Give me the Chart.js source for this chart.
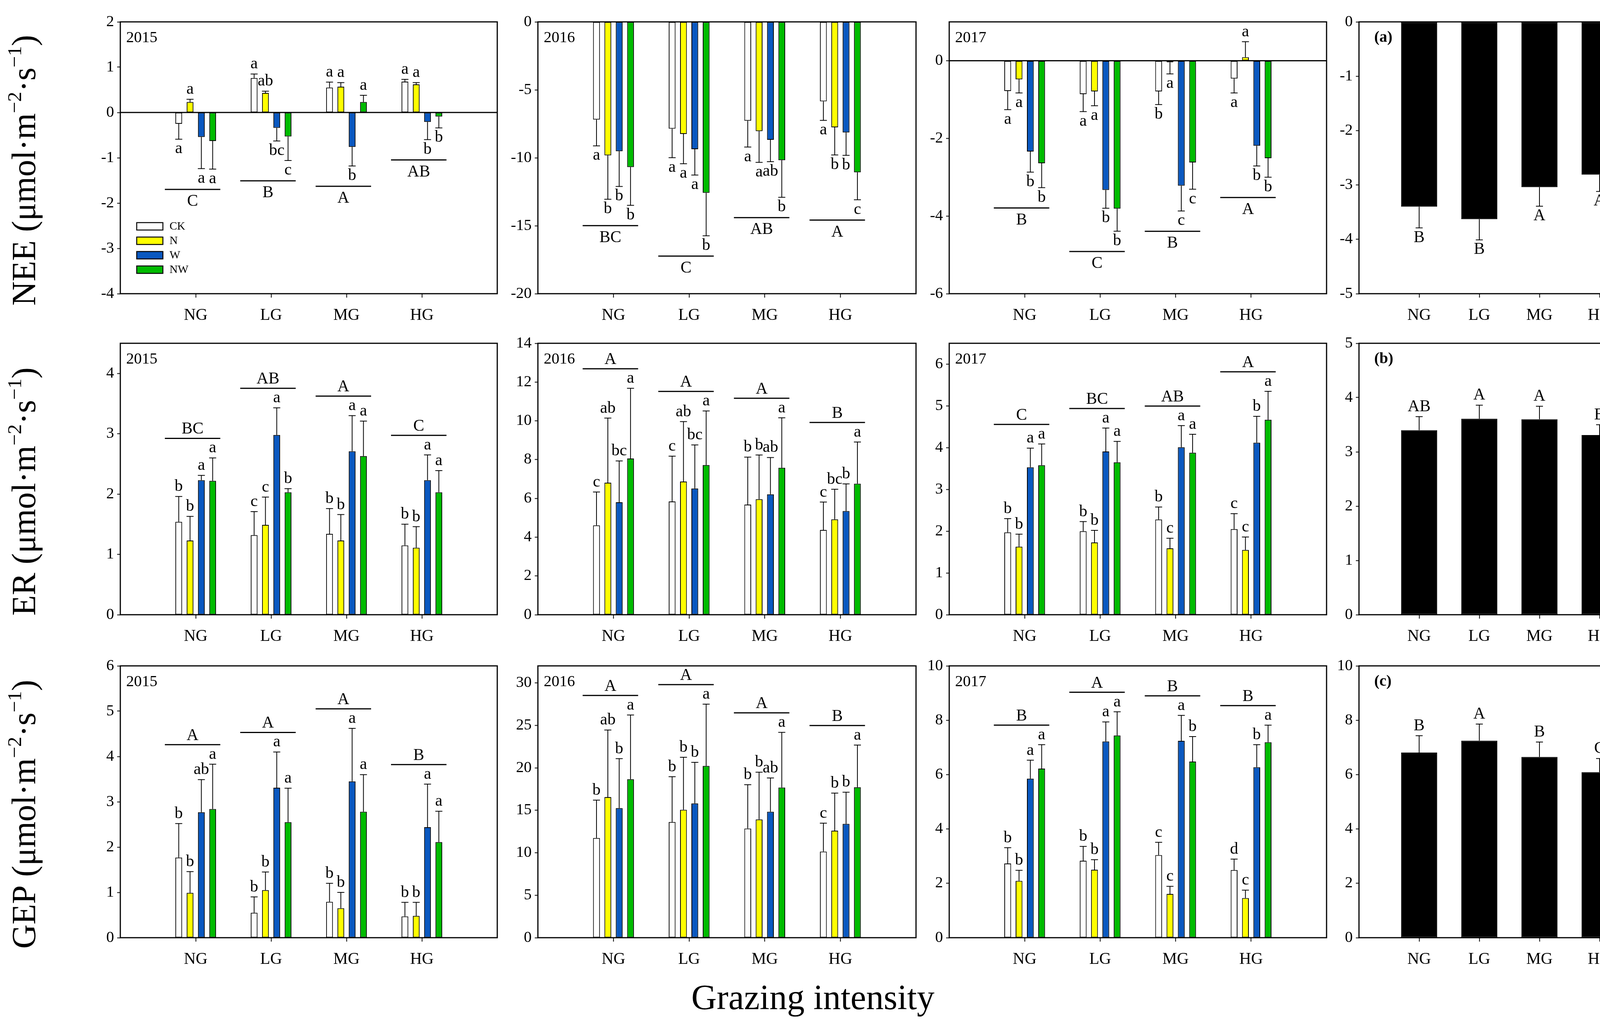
<!DOCTYPE html>
<html>
<head>
<meta charset="utf-8">
<script src="https://cdn.jsdelivr.net/npm/chart.js@4.4.1/dist/chart.umd.min.js"></script>
<style>
  body { margin: 0; background: #fff; }
  #fig { position: relative; width: 4305px; height: 2622px; background: #fff; overflow: hidden; }
  #fig canvas { position: absolute; }
</style>
</head>
<body>
<div id="fig"></div>
<script>
// categories and treatments
const groups = ['NG', 'LG', 'MG', 'HG'];
const treatments = ['CK', 'N', 'W', 'NW'];
const treatColors = ['#ffffff', '#ffff00', '#0a58c0', '#00bb00'];

// rows of each table: CK, N, W, NW ; columns: NG, LG, MG, HG
// ---- NEE ----
const nee2015 = [[-0.25, 0.76, 0.55, 0.68], [0.23, 0.43, 0.57, 0.62], [-0.54, -0.34, -0.76, -0.21], [-0.63, -0.53, 0.23, -0.09]];
const nee2015Err = [[0.34, 0.09, 0.12, 0.05], [0.06, 0.04, 0.09, 0.04], [0.70, 0.29, 0.42, 0.39], [0.62, 0.53, 0.15, 0.25]];
const nee2015Let = [['a', 'a', 'a', 'a'], ['a', 'ab', 'a', 'a'], ['a', 'bc', 'b', 'b'], ['a', 'c', 'a', 'b']];
const nee2015Grp = ['C', 'B', 'A', 'AB'];

const nee2016 = [[-7.19, -7.86, -7.28, -5.85], [-9.82, -8.25, -8.04, -7.76], [-9.52, -9.37, -8.68, -8.14], [-10.68, -12.58, -10.18, -11.07]];
const nee2016Err = [[1.93, 2.13, 1.93, 1.40], [3.23, 2.19, 2.30, 2.03], [2.59, 1.90, 1.61, 1.68], [2.82, 3.16, 2.73, 2.02]];
const nee2016Let = [['a', 'a', 'a', 'a'], ['b', 'a', 'a', 'b'], ['b', 'a', 'ab', 'b'], ['b', 'b', 'b', 'c']];
const nee2016Grp = ['BC', 'C', 'AB', 'A'];

const nee2017 = [[-0.78, -0.86, -0.79, -0.46], [-0.48, -0.79, -0.04, 0.09], [-2.34, -3.33, -3.22, -2.19], [-2.64, -3.81, -2.62, -2.51]];
const nee2017Err = [[0.48, 0.45, 0.34, 0.37], [0.35, 0.37, 0.30, 0.40], [0.53, 0.47, 0.65, 0.52], [0.63, 0.58, 0.69, 0.49]];
const nee2017Let = [['a', 'a', 'b', 'a'], ['a', 'a', 'a', 'a'], ['b', 'b', 'c', 'b'], ['b', 'b', 'c', 'b']];
const nee2017Grp = ['B', 'C', 'B', 'A'];

const neeMean = [-3.40, -3.63, -3.04, -2.81];
const neeMeanErr = [0.39, 0.38, 0.35, 0.31];
const neeMeanLet = ['B', 'B', 'A', 'A'];

// ---- ER ----
const er2015 = [[1.54, 1.32, 1.34, 1.15], [1.23, 1.49, 1.23, 1.11], [2.23, 2.98, 2.71, 2.23], [2.22, 2.03, 2.63, 2.03]];
const er2015Err = [[0.42, 0.39, 0.42, 0.35], [0.40, 0.46, 0.43, 0.35], [0.08, 0.45, 0.59, 0.42], [0.38, 0.06, 0.58, 0.36]];
const er2015Let = [['b', 'c', 'b', 'b'], ['b', 'c', 'b', 'b'], ['a', 'a', 'a', 'a'], ['a', 'b', 'a', 'a']];
const er2015Grp = ['BC', 'AB', 'A', 'C'];

const er2016 = [[4.61, 5.84, 5.68, 4.37], [6.81, 6.87, 5.96, 4.92], [5.80, 6.51, 6.21, 5.35], [8.06, 7.72, 7.58, 6.76]];
const er2016Err = [[1.72, 2.34, 2.45, 1.44], [3.33, 3.09, 2.28, 1.55], [2.13, 2.25, 1.90, 1.40], [3.62, 2.79, 2.58, 2.15]];
const er2016Let = [['c', 'c', 'b', 'c'], ['ab', 'ab', 'b', 'bc'], ['bc', 'bc', 'ab', 'b'], ['a', 'a', 'a', 'a']];
const er2016Grp = ['A', 'A', 'A', 'B'];

const er2017 = [[1.97, 2.00, 2.28, 2.05], [1.63, 1.73, 1.59, 1.55], [3.53, 3.91, 4.01, 4.12], [3.58, 3.65, 3.88, 4.67]];
const er2017Err = [[0.33, 0.23, 0.30, 0.37], [0.30, 0.29, 0.24, 0.31], [0.46, 0.56, 0.52, 0.63], [0.51, 0.50, 0.44, 0.68]];
const er2017Let = [['b', 'b', 'b', 'c'], ['b', 'b', 'c', 'c'], ['a', 'a', 'a', 'b'], ['a', 'a', 'a', 'a']];
const er2017Grp = ['C', 'BC', 'AB', 'A'];

const erMean = [3.40, 3.61, 3.60, 3.31];
const erMeanErr = [0.25, 0.25, 0.24, 0.19];
const erMeanLet = ['AB', 'A', 'A', 'B'];

// ---- GEP ----
const gep2015 = [[1.77, 0.55, 0.79, 0.47], [0.99, 1.05, 0.65, 0.48], [2.77, 3.31, 3.45, 2.44], [2.84, 2.55, 2.78, 2.11]];
const gep2015Err = [[0.75, 0.35, 0.41, 0.31], [0.47, 0.40, 0.35, 0.30], [0.72, 0.79, 1.17, 0.95], [0.99, 0.75, 0.82, 0.68]];
const gep2015Let = [['b', 'b', 'b', 'b'], ['b', 'b', 'b', 'b'], ['ab', 'a', 'a', 'a'], ['a', 'a', 'a', 'a']];
const gep2015Grp = ['A', 'A', 'A', 'B'];

const gep2016 = [[11.74, 13.62, 12.85, 10.14], [16.55, 15.06, 13.92, 12.60], [15.25, 15.80, 14.83, 13.40], [18.65, 20.22, 17.68, 17.71]];
const gep2016Err = [[4.45, 5.33, 5.16, 3.34], [7.90, 6.18, 5.56, 4.42], [5.83, 4.84, 3.98, 3.73], [7.57, 7.27, 6.49, 4.97]];
const gep2016Let = [['b', 'b', 'b', 'c'], ['ab', 'b', 'b', 'b'], ['b', 'b', 'ab', 'b'], ['a', 'a', 'a', 'a']];
const gep2016Grp = ['A', 'A', 'A', 'B'];

const gep2017 = [[2.73, 2.83, 3.04, 2.49], [2.09, 2.50, 1.61, 1.46], [5.85, 7.22, 7.24, 6.27], [6.22, 7.44, 6.48, 7.19]];
const gep2017Err = [[0.58, 0.53, 0.47, 0.40], [0.39, 0.37, 0.28, 0.29], [0.68, 0.72, 0.94, 0.83], [0.88, 0.87, 0.92, 0.63]];
const gep2017Let = [['b', 'b', 'c', 'd'], ['b', 'b', 'c', 'c'], ['a', 'a', 'a', 'b'], ['a', 'a', 'b', 'a']];
const gep2017Grp = ['B', 'A', 'B', 'B'];

const gepMean = [6.81, 7.25, 6.65, 6.09];
const gepMeanErr = [0.62, 0.61, 0.55, 0.50];
const gepMeanLet = ['B', 'A', 'B', 'C'];

// y axis ticks
const neeTicks2015 = [-4, -3, -2, -1, 0, 1, 2];
const neeTicks2016 = [-20, -15, -10, -5, 0];
const neeTicks2017 = [-6, -4, -2, 0];
const neeTicksMean = [-5, -4, -3, -2, -1, 0];
const erTicks2015 = [0, 1, 2, 3, 4];
const erTicks2016 = [0, 2, 4, 6, 8, 10, 12, 14];
const erTicks2017 = [0, 1, 2, 3, 4, 5, 6];
const erTicksMean = [0, 1, 2, 3, 4, 5];
const gepTicks2015 = [0, 1, 2, 3, 4, 5, 6];
const gepTicks2016 = [0, 5, 10, 15, 20, 25, 30];
const gepTicks2017 = [0, 2, 4, 6, 8, 10];
const gepTicksMean = [0, 2, 4, 6, 8, 10];

const rowTitles = ['NEE', 'ER', 'GEP'];
const xTitle = 'Grazing intensity';

Chart.defaults.font.family = '"Liberation Serif", "Times New Roman", serif';
Chart.defaults.color = '#000';

// plot area of each panel on the page
const colX = [[308, 1273], [1377, 2345], [2430, 3396], [3479, 4249]];
const rowY = [[56, 752], [879, 1574], [1705, 2401]];

const panels = [
  { row: 0, col: 0, vals: nee2015, errs: nee2015Err, lets: nee2015Let, grp: nee2015Grp, range: [-4, 2], ticks: neeTicks2015, tag: '2015', legend: true },
  { row: 0, col: 1, vals: nee2016, errs: nee2016Err, lets: nee2016Let, grp: nee2016Grp, range: [-20, 0], ticks: neeTicks2016, tag: '2016' },
  { row: 0, col: 2, vals: nee2017, errs: nee2017Err, lets: nee2017Let, grp: nee2017Grp, range: [-6, 1], ticks: neeTicks2017, tag: '2017' },
  { row: 0, col: 3, vals: [neeMean], errs: [neeMeanErr], lets: [neeMeanLet], range: [-5, 0], ticks: neeTicksMean, tag: '(a)' },
  { row: 1, col: 0, vals: er2015, errs: er2015Err, lets: er2015Let, grp: er2015Grp, range: [0, 4.5], ticks: erTicks2015, tag: '2015' },
  { row: 1, col: 1, vals: er2016, errs: er2016Err, lets: er2016Let, grp: er2016Grp, range: [0, 14], ticks: erTicks2016, tag: '2016' },
  { row: 1, col: 2, vals: er2017, errs: er2017Err, lets: er2017Let, grp: er2017Grp, range: [0, 6.5], ticks: erTicks2017, tag: '2017' },
  { row: 1, col: 3, vals: [erMean], errs: [erMeanErr], lets: [erMeanLet], range: [0, 5], ticks: erTicksMean, tag: '(b)' },
  { row: 2, col: 0, vals: gep2015, errs: gep2015Err, lets: gep2015Let, grp: gep2015Grp, range: [0, 6], ticks: gepTicks2015, tag: '2015' },
  { row: 2, col: 1, vals: gep2016, errs: gep2016Err, lets: gep2016Let, grp: gep2016Grp, range: [0, 32], ticks: gepTicks2016, tag: '2016', xTitle: true },
  { row: 2, col: 2, vals: gep2017, errs: gep2017Err, lets: gep2017Let, grp: gep2017Grp, range: [0, 10], ticks: gepTicks2017, tag: '2017' },
  { row: 2, col: 3, vals: [gepMean], errs: [gepMeanErr], lets: [gepMeanLet], range: [0, 10], ticks: gepTicksMean, tag: '(c)' }
];

const pad = a => [null, ...a, null];
const fig = document.getElementById('fig');
const serif = '"Liberation Serif", "Times New Roman", serif';

// text with superscripts, centred on 0 along the baseline
function drawRich(ctx, segs, size) {
  let total = 0;
  const parts = segs.map(s => {
    const fs = s.sup ? size * 0.6 : size;
    ctx.font = fs + 'px ' + serif;
    const w = ctx.measureText(s.t).width;
    total += w;
    return { s, fs, w };
  });
  let x = -total / 2;
  ctx.textAlign = 'left';
  ctx.textBaseline = 'alphabetic';
  parts.forEach(p => {
    ctx.font = p.fs + 'px ' + serif;
    ctx.fillText(p.s.t, x, p.s.sup ? -size * 0.42 : 0);
    x += p.w;
  });
}

function makeDecor(p, off) {
  return {
    id: 'decor' + p.row + p.col,
    afterDatasetsDraw(chart) {
      const { ctx, chartArea: a, scales: { x, y } } = chart;
      ctx.save();
      ctx.strokeStyle = '#000';
      ctx.fillStyle = '#000';

      const hline = (x1, x2, yy, lw) => {
        ctx.lineWidth = lw;
        ctx.beginPath(); ctx.moveTo(x1, yy); ctx.lineTo(x2, yy); ctx.stroke();
      };

      // zero line
      if (y.min < 0 && y.max > 0) hline(a.left, a.right, y.getPixelForValue(0), 3);

      // error bars and significance letters
      const ends = [[], [], [], [], [], []];
      chart.data.datasets.forEach((ds, di) => {
        chart.getDatasetMeta(di).data.forEach((el, j) => {
          const v = ds.data[j];
          if (v == null) return;
          const up = v >= 0;
          const yEnd = y.getPixelForValue(up ? v + ds.errors[j] : v - ds.errors[j]);
          ctx.lineWidth = 2;
          ctx.beginPath();
          ctx.moveTo(el.x, el.y); ctx.lineTo(el.x, yEnd);
          ctx.moveTo(el.x - 9, yEnd); ctx.lineTo(el.x + 9, yEnd);
          ctx.stroke();
          ctx.font = '42px ' + serif;
          ctx.textAlign = 'center';
          ctx.textBaseline = 'alphabetic';
          ctx.fillText(ds.letters[j], el.x, up ? yEnd - 14 : yEnd + 36);
          ends[j].push(yEnd);
        });
      });

      // grazing-level group lines with capital letters
      if (p.grp) {
        const down = p.row === 0;
        p.grp.forEach((g, i) => {
          const j = i + 1;
          const cx = x.getPixelForValue(j) - 8;
          const yl = down ? Math.max(...ends[j]) + 52 : Math.min(...ends[j]) - 50;
          hline(cx - 71, cx + 71, yl, 3);
          ctx.font = '42px ' + serif;
          ctx.textAlign = 'center';
          ctx.textBaseline = 'alphabetic';
          ctx.fillText(g, cx, down ? yl + 42 : yl - 12);
        });
      }

      // frame
      ctx.lineWidth = 3;
      ctx.strokeRect(a.left, a.top, a.right - a.left, a.bottom - a.top);

      // panel tag
      const bold = p.tag.startsWith('(');
      ctx.font = (bold ? 'bold ' : '') + '40px ' + serif;
      ctx.textAlign = 'left';
      ctx.textBaseline = 'middle';
      ctx.fillText(p.tag, a.left + (bold ? 39 : 15), a.top + 41);

      // legend
      if (p.legend) {
        chart.data.datasets.forEach((ds, i) => {
          const by = a.bottom - 182 + i * 37;
          ctx.fillStyle = ds.backgroundColor;
          ctx.fillRect(a.left + 42, by, 67, 19);
          ctx.lineWidth = 2.5;
          ctx.strokeRect(a.left + 42, by, 67, 19);
          ctx.fillStyle = '#000';
          ctx.font = '29px ' + serif;
          ctx.textAlign = 'left';
          ctx.textBaseline = 'middle';
          ctx.fillText(ds.label, a.left + 126, by + 10);
        });
      }

      // y axis title on the first column
      if (p.col === 0) {
        ctx.save();
        ctx.translate(90 - off.left, (a.top + a.bottom) / 2 + 32);
        ctx.rotate(-Math.PI / 2);
        drawRich(ctx, [
          { t: rowTitles[p.row] + ' (μmol·m' }, { t: '−2', sup: true },
          { t: '·s' }, { t: '−1', sup: true }, { t: ')' }
        ], 86);
        ctx.restore();
      }

      // common x axis title
      if (p.xTitle) {
        ctx.font = '90px ' + serif;
        ctx.textAlign = 'center';
        ctx.textBaseline = 'alphabetic';
        ctx.fillText(xTitle, 2081 - off.left, 2584 - off.top);
      }
      ctx.restore();
    }
  };
}

panels.forEach(p => {
  const [L, R] = colX[p.col];
  const [T, B] = rowY[p.row];
  const m = {
    left: p.col === 0 ? L : 110,
    top: 40,
    right: p.xTitle ? 120 : 40,
    bottom: p.xTitle ? 2622 - B : 110
  };
  const off = { left: L - m.left, top: T - m.top };
  const w = R - L + m.left + m.right;
  const h = B - T + m.top + m.bottom;
  const cv = document.createElement('canvas');
  cv.width = w; cv.height = h;
  cv.style.left = off.left + 'px';
  cv.style.top = off.top + 'px';
  cv.style.width = w + 'px';
  cv.style.height = h + 'px';
  fig.appendChild(cv);

  const mean = p.vals.length === 1;
  const datasets = p.vals.map((vals, i) => ({
    label: mean ? 'Mean' : treatments[i],
    data: pad(vals),
    errors: pad(p.errs[i]),
    letters: pad(p.lets[i]),
    backgroundColor: mean ? '#000000' : treatColors[i],
    borderColor: '#000',
    borderWidth: 2,
    borderSkipped: false,
    categoryPercentage: 0.6,
    barPercentage: mean ? 1 : 0.6
  }));

  new Chart(cv, {
    type: 'bar',
    data: { labels: pad(groups).map(g => g || ''), datasets },
    options: {
      responsive: false,
      animation: false,
      devicePixelRatio: 1,
      layout: { padding: { left: 0, top: m.top, right: m.right, bottom: 0 } },
      plugins: { legend: { display: false }, tooltip: { enabled: false } },
      scales: {
        x: {
          type: 'category',
          offset: false,
          border: { display: false },
          grid: {
            display: true, offset: false, drawOnChartArea: false, drawTicks: true,
            tickLength: 10, tickWidth: 2,
            tickColor: c => (c.index === 0 || c.index === 5) ? 'rgba(0,0,0,0)' : '#000'
          },
          ticks: { font: { size: 42 }, color: '#000', padding: 21, maxRotation: 0, autoSkip: false },
          afterFit: sc => { sc.height = m.bottom; }
        },
        y: {
          min: p.range[0],
          max: p.range[1],
          border: { display: false },
          grid: { display: true, drawOnChartArea: false, drawTicks: true, tickLength: 8, tickWidth: 2, tickColor: '#000' },
          ticks: { font: { size: 40 }, color: '#000', padding: 8 },
          afterBuildTicks: sc => { sc.ticks = p.ticks.map(v => ({ value: v })); },
          afterFit: sc => { sc.width = m.left; }
        }
      }
    },
    plugins: [makeDecor(p, off)]
  });
});
</script>
</body>
</html>
